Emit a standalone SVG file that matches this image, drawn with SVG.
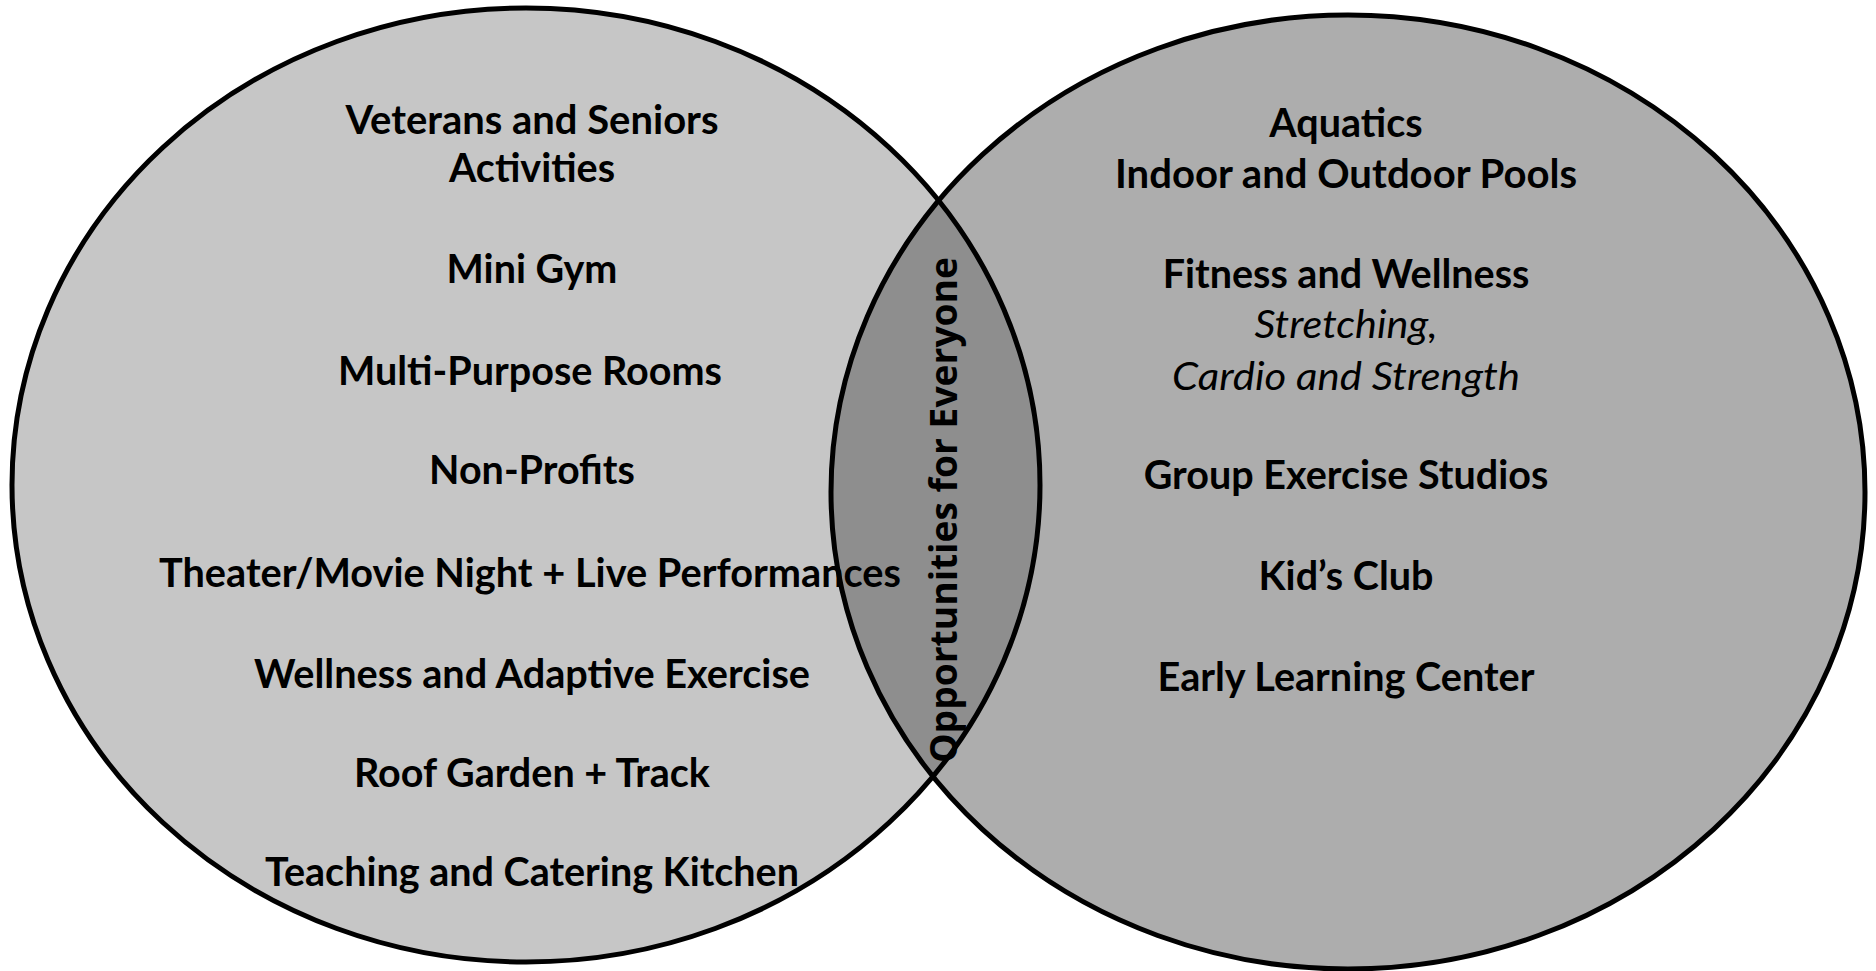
<svg xmlns="http://www.w3.org/2000/svg" width="1876" height="971" viewBox="0 0 1876 971">
  <style>
    .bg { fill: #ffffff; }
    .ring { fill: none; stroke: #000000; stroke-width: 5; }
    .item { font-family: Lato, "Open Sans", "Liberation Sans", sans-serif; font-weight: 700; font-size: 39.5px; fill: #000000; text-anchor: middle; }
    .sub { font-family: Lato, "Open Sans", "Liberation Sans", sans-serif; font-weight: 400; font-style: italic; font-size: 38px; fill: #000000; text-anchor: middle; }
    .mid { font-family: "Open Sans", "Noto Sans", "Liberation Sans", sans-serif; font-weight: 700; font-size: 37px; fill: #000000; text-anchor: middle; }
  </style>
  <defs>
    <clipPath id="clipLeft">
      <ellipse cx="526" cy="485" rx="514" ry="477"/>
    </clipPath>
  </defs>
  <rect class="bg" x="0" y="0" width="1876" height="971"/>

  <g id="left-set">
    <ellipse cx="526" cy="485" rx="514" ry="477" fill="#c6c6c6"/>
  </g>
  <g id="right-set">
    <ellipse cx="1348" cy="492" rx="517" ry="477" fill="#adadad"/>
  </g>
  <g id="overlap">
    <ellipse cx="1348" cy="492" rx="517" ry="477" fill="#8e8e8e" clip-path="url(#clipLeft)"/>
  </g>

  <g id="outlines">
    <ellipse class="ring" cx="526" cy="485" rx="514" ry="477"/>
    <ellipse class="ring" cx="1348" cy="492" rx="517" ry="477"/>
  </g>

  <g id="left-labels">
    <text class="item" x="532" y="134" textLength="373" lengthAdjust="spacingAndGlyphs">Veterans and Seniors</text>
    <text class="item" x="532" y="182">Activities</text>
    <text class="item" x="532" y="283">Mini Gym</text>
    <text class="item" x="530" y="385" textLength="384" lengthAdjust="spacingAndGlyphs">Multi-Purpose Rooms</text>
    <text class="item" x="532" y="484">Non-Profits</text>
    <text class="item" x="530" y="587" textLength="742" lengthAdjust="spacingAndGlyphs">Theater/Movie Night + Live Performances</text>
    <text class="item" x="532" y="688" textLength="556" lengthAdjust="spacingAndGlyphs">Wellness and Adaptive Exercise</text>
    <text class="item" x="532" y="787">Roof Garden + Track</text>
    <text class="item" x="532" y="886" textLength="534" lengthAdjust="spacingAndGlyphs">Teaching and Catering Kitchen</text>
  </g>

  <g id="right-labels">
    <text class="item" x="1346" y="137">Aquatics</text>
    <text class="item" x="1346" y="188" textLength="462" lengthAdjust="spacingAndGlyphs">Indoor and Outdoor Pools</text>
    <text class="item" x="1346" y="288">Fitness and Wellness</text>
    <text class="sub" x="1346" y="338" textLength="183" lengthAdjust="spacingAndGlyphs">Stretching,</text>
    <text class="sub" x="1346" y="390" textLength="348" lengthAdjust="spacingAndGlyphs">Cardio and Strength</text>
    <text class="item" x="1346" y="489">Group Exercise Studios</text>
    <text class="item" x="1346" y="590">Kid’s Club</text>
    <text class="item" x="1346" y="691" textLength="377" lengthAdjust="spacingAndGlyphs">Early Learning Center</text>
  </g>

  <g id="overlap-label">
    <text class="mid" transform="translate(957 510) rotate(-90)" x="0" y="0" textLength="506" lengthAdjust="spacingAndGlyphs">Opportunities for Everyone</text>
  </g>
</svg>
